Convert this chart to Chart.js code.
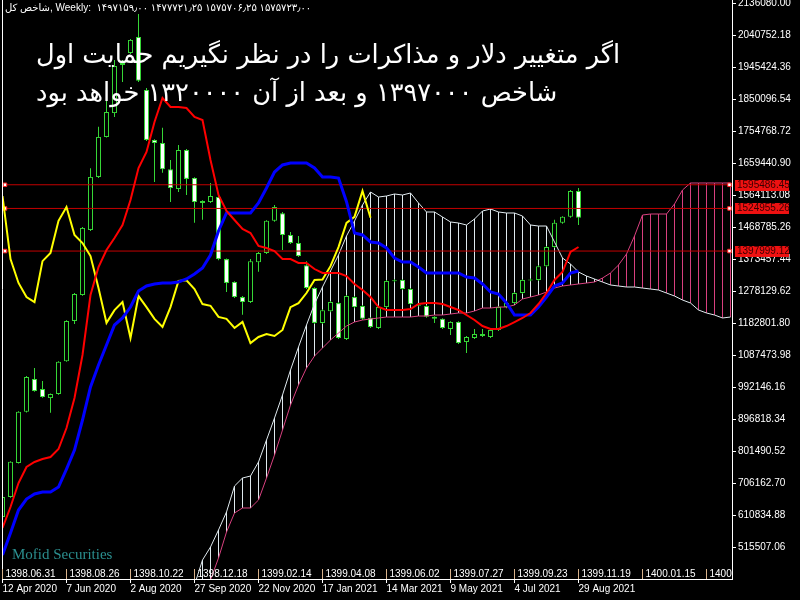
<!DOCTYPE html>
<html>
<head>
<meta charset="utf-8">
<script src="https://cdn.jsdelivr.net/npm/chart.js@4.4.0/dist/chart.umd.min.js"></script>
<style>
  html, body { margin: 0; padding: 0; background: #000; }
  canvas { display: block; }
</style>
</head>
<body>
<canvas id="chart" width="800" height="600"></canvas>
<script>
// weekly candles, prices in thousands, week 0 = 12 Apr 2020
const K = 1000;
const openK = [606,665,767,919,1017,987,960,972,1070,1190,1267,1461,1619,1738,1809,1952,1988,2036,1878,1729,
  1720,1642,1583,1699,1616,1547,1544,1559,1374,1306,1261,1246,1365,1392,1488,1511,1446,1422,1356,1288,
  1184,1219,1243,1136,1261,1234,1199,1169,1231,1308,1312,1285,1238,1234,1202,1196,1166,1187,1127,1139,
  1151,1142,1163,1231,1243,1273,1310,1312,1353,1410,1482,1500,1577];
const highK = [668,772,921,1026,1050,1011,974,1070,1192,1273,1470,1645,1768,1845,1967,1967,2030,2104,1884,1731,
  1765,1669,1714,1702,1618,1549,1601,1565,1376,1308,1264,1374,1395,1490,1535,1514,1455,1443,1368,1290,
  1225,1249,1246,1267,1264,1237,1201,1234,1312,1314,1314,1288,1240,1237,1204,1198,1189,1189,1145,1166,
  1166,1166,1234,1246,1276,1314,1316,1356,1413,1491,1502,1580,1586];
const lowK = [600,663,765,917,979,961,916,970,1068,1181,1265,1458,1616,1736,1797,1902,1985,1902,1726,1604,
  1631,1544,1574,1565,1482,1491,1541,1371,1276,1258,1208,1243,1336,1389,1485,1401,1419,1380,1285,1181,
  1181,1216,1136,1133,1228,1193,1169,1166,1228,1305,1282,1237,1233,1199,1184,1166,1148,1121,1094,1136,
  1142,1139,1160,1228,1240,1270,1308,1309,1350,1407,1479,1497,1476];
const closeK = [665,770,919,1023,981,963,972,1068,1190,1270,1467,1619,1738,1812,1949,1958,2027,1905,1729,1720,
  1642,1586,1699,1613,1544,1541,1562,1374,1303,1261,1246,1368,1392,1488,1529,1446,1422,1383,1288,1184,
  1222,1246,1139,1264,1231,1196,1172,1231,1309,1311,1285,1240,1235,1202,1196,1169,1187,1124,1142,1151,
  1145,1163,1231,1243,1273,1312,1313,1353,1410,1482,1500,1577,1497];

// ichimoku lines (thousands)
const tenkanK = [573.0,635.5,707.0,754.7,769.6,778.5,784.5,808.3,870.9,960.3,
  1088.4,1267.1,1350.5,1401.2,1436.9,1475.6,1550.1,1645.4,1693.1,1782.5,
  1854.0,1827.1,1827.1,1824.2,1797.4,1788.4,1669.3,1565.0,1517.3,1490.5,
  1463.7,1451.8,1413.1,1407.1,1398.2,1374.3,1374.3,1362.4,1362.4,1344.5,
  1332.6,1332.6,1332.6,1323.7,1299.9,1282.0,1261.1,1231.3,1222.4,1222.4,
  1222.4,1225.4,1240.3,1243.2,1243.2,1240.3,1231.3,1222.4,1207.5,1192.6,
  1174.7,1165.8,1165.8,1174.7,1186.6,1198.6,1213.5,1240.3,1273.0,1311.8,
  1335.6,1395.2,1410.1];
const kijunK = [492.6,558.1,626.6,659.4,674.3,680.2,680.2,695.1,748.7,805.3,
  894.7,993.0,1058.6,1118.1,1177.7,1198.6,1231.3,1279.0,1293.9,1299.9,
  1302.8,1302.8,1305.8,1314.8,1329.7,1347.5,1386.3,1457.8,1511.4,1511.4,
  1511.4,1511.4,1541.2,1585.8,1633.5,1654.4,1660.3,1660.3,1660.3,1645.4,
  1618.6,1618.6,1615.6,1545.0,1451.8,1445.9,1425.0,1422.0,1407.1,1377.3,
  1365.4,1365.4,1350.5,1332.6,1332.6,1332.6,1332.6,1332.6,1320.7,1317.7,
  1299.9,1276.0,1270.1,1243.2,1207.5,1207.5,1207.5,1231.3,1261.1,1293.9,
  1302.8,1332.6,1338.6];
const spanStart = 23;
const spanAK = [358.5,403.2,477.7,516.4,567.0,620.7,698.1,721.9,727.9,769.6,
  835.1,900.7,969.2,1043.7,1112.2,1177.7,1240.3,1290.9,1338.6,1386.3,
  1442.9,1487.6,1535.2,1573.9,1559.0,1562.0,1568.0,1565.0,1571.0,1541.2,
  1514.4,1514.4,1499.5,1484.6,1481.6,1475.6,1493.5,1517.3,1523.3,1514.4,
  1511.4,1511.4,1502.4,1475.6,1472.6,1472.6,1425.0,1377.3,1359.4,1335.6,
  1323.7,1314.8,1305.8,1296.9,1293.9,1290.9,1290.9,1287.9,1284.9,1282.0,
  1273.0,1264.1,1252.2,1243.2,1222.4,1213.5,1207.5,1198.6,1201.5];
const spanBK = [239.3,298.9,358.5,418.1,483.6,561.1,617.7,632.6,632.6,656.4,
  721.9,790.5,864.9,939.4,999.0,1049.6,1085.4,1109.2,1133.0,1153.9,
  1174.7,1186.6,1192.6,1195.6,1198.6,1201.5,1201.5,1201.5,1201.5,1204.5,
  1204.5,1207.5,1207.5,1210.5,1213.5,1213.5,1219.4,1228.3,1228.3,1231.3,
  1231.3,1237.3,1255.2,1261.1,1267.1,1276.0,1287.9,1293.9,1296.9,1299.9,
  1302.8,1305.8,1317.7,1332.6,1356.4,1389.2,1442.9,1505.4,1508.4,1508.4,
  1508.4,1538.2,1579.9,1600.8,1600.8,1600.8,1600.8,1600.8,1600.8];
const chikouShift = 26;

const levels = [1595486.45, 1524955.26, 1397999.12];
const yTicks = [515507.06, 610834.88, 706162.70, 801490.52, 896818.34, 992146.16, 1087473.98,
  1182801.80, 1278129.62, 1373457.44, 1468785.26, 1564113.08, 1659440.90, 1754768.72,
  1850096.54, 1945424.36, 2040752.18, 2136080.00];
const gregTicks = [0, 8, 16, 24, 32, 40, 48, 56, 64, 72];
const gregLabels = ['12 Apr 2020', '7 Jun 2020', '2 Aug 2020', '27 Sep 2020', '22 Nov 2020',
  '17 Jan 2021', '14 Mar 2021', '9 May 2021', '4 Jul 2021', '29 Aug 2021'];
const jalaliTicks = [0, 8, 16, 24, 32, 40, 48, 56, 64, 72, 80, 88];
const jalaliLabels = ['1398.06.31', '1398.08.26', '1398.10.22', '1398.12.18', '1399.02.14', '1399.04.08',
  '1399.06.02', '1399.07.27', '1399.09.23', '1399.11.19', '1400.01.15', '1400.03.09'];

const headerText = 'شاخص کل, Weekly:  ۱۴۹۷۱۵۹٫۰۰ ۱۴۷۷۷۲۱٫۲۵ ۱۵۷۵۷۰۶٫۲۵ ۱۵۷۵۷۲۳٫۰۰';
const titleLines = ['اگر متغییر دلار و مذاکرات را در نظر نگیریم حمایت اول',
  'شاخص ۱۳۹۷۰۰۰ و بعد از آن ۱۳۲۰۰۰۰ خواهد بود'];
const watermark = 'Mofid Securities';

const candleGreen = '#36d636';

// build datasets
const bodyUp = [], bodyDn = [], wicks = [];
openK.forEach((o, i) => {
  const c = closeK[i];
  (c >= o ? bodyUp : bodyDn).push({x: i, y: [o * K, c * K]});
  wicks.push({x: i, y: [lowK[i] * K, highK[i] * K]});
});
const hatchA = [], hatchB = [];
spanAK.forEach((a, j) => {
  const b = spanBK[j];
  (a >= b ? hatchA : hatchB).push({x: spanStart + j, y: [b * K, a * K]});
});
const toPts = (arr, start) => arr.map((v, j) => ({x: start + j, y: v * K}));

const lineDs = (label, data, color, width, order) => ({
  type: 'line', label, data, borderColor: color, borderWidth: width,
  pointRadius: 0, tension: 0, fill: false, order
});
const barDs = (label, data, bg, border, thick, order) => ({
  type: 'bar', label, data, backgroundColor: bg, borderColor: border,
  borderWidth: border ? 1 : 0, borderSkipped: false, barThickness: thick,
  grouped: false, inflateAmount: 0, order
});

const levelSets = levels.map(v => ({
  type: 'line', data: [{x: 0.31, y: v}, {x: 90.875, y: v}],
  borderColor: '#c40000', borderWidth: 1, pointStyle: 'rect', pointRadius: 2.5,
  pointBackgroundColor: '#ffffff', pointBorderColor: '#ff2020', pointBorderWidth: 1,
  clip: false, order: 4
}));

// keep the plot flush with the canvas edges (no label overhang padding)
const noPad = s => { s.paddingTop = 0; s.paddingBottom = 0; s.paddingLeft = 0; s.paddingRight = 0; };

const overlay = {
  id: 'overlay',
  afterDraw(chart) {
    const {ctx, chartArea: a, scales: {x, y}} = chart;
    ctx.save();
    // left frame line
    ctx.strokeStyle = '#ffffff';
    ctx.lineWidth = 1;
    ctx.beginPath();
    ctx.moveTo(a.left + 0.5, a.top);
    ctx.lineTo(a.left + 0.5, a.bottom);
    ctx.stroke();

    // jalali dates row inside the plot
    ctx.save();
    ctx.beginPath();
    ctx.rect(a.left, a.top, a.right - a.left, a.bottom - a.top);
    ctx.clip();
    ctx.font = '10px "Liberation Sans"';
    ctx.textAlign = 'left';
    ctx.textBaseline = 'alphabetic';
    jalaliTicks.forEach((t, k) => {
      const px = Math.floor(x.getPixelForValue(t)) + 0.5;
      ctx.strokeStyle = '#d9b38c';
      ctx.beginPath();
      ctx.moveTo(px, a.bottom - 10);
      ctx.lineTo(px, a.bottom);
      ctx.stroke();
      ctx.fillStyle = '#ffffff';
      ctx.fillText(jalaliLabels[k], px + 3, a.bottom - 2);
    });
    ctx.restore();

    // watermark
    ctx.fillStyle = '#2b8f8f';
    ctx.font = '15px "Liberation Serif"';
    ctx.textAlign = 'left';
    ctx.fillText(watermark, 12, 559);

    // header
    ctx.fillStyle = '#ffffff';
    ctx.font = '10px "Liberation Sans", "DejaVu Sans"';
    ctx.fillText(headerText, 5, 11);

    // title
    ctx.direction = 'rtl';
    ctx.textAlign = 'left';
    ctx.font = '26px "DejaVu Sans"';
    const fs = 26 * 584 / ctx.measureText(titleLines[0]).width;
    ctx.font = fs.toFixed(1) + 'px "DejaVu Sans"';
    ctx.fillText(titleLines[0], 36, 63);
    ctx.fillText(titleLines[1], 36, 101);
    ctx.direction = 'ltr';

    // level price tags on the axis
    ctx.font = '10px "Liberation Sans"';
    ctx.textBaseline = 'middle';
    levels.forEach(v => {
      const py = Math.round(y.getPixelForValue(v));
      ctx.fillStyle = '#ee1111';
      ctx.fillRect(a.right + 3, py - 5, 54, 11);
      ctx.fillStyle = '#3a0000';
      ctx.fillText(v.toFixed(2), a.right + 5, py + 0.5);
    });
    ctx.restore();
  }
};

Chart.defaults.color = '#ffffff';
Chart.defaults.font.family = '"Liberation Sans", sans-serif';
Chart.defaults.font.size = 10;

new Chart(document.getElementById('chart'), {
  type: 'bar',
  data: {
    datasets: [
      lineDs('Tenkan', toPts(tenkanK, 0), '#ff0000', 2, 1),
      lineDs('Kijun', toPts(kijunK, 0), '#0000ff', 3, 2),
      lineDs('Chikou', toPts(closeK.slice(chikouShift), 0), '#ffff00', 2, 3),
      ...levelSets,
      lineDs('Span A', toPts(spanAK, spanStart), '#dfe9ee', 1, 5),
      lineDs('Span B', toPts(spanBK, spanStart), '#d8407f', 1, 6),
      barDs('Up', bodyUp, '#000000', candleGreen, 5, 7),
      barDs('Down', bodyDn, '#ffffff', candleGreen, 5, 8),
      barDs('Wick', wicks, candleGreen, null, 1, 9),
      barDs('Kumo up', hatchA, '#dfe9ee', null, 1, 10),
      barDs('Kumo down', hatchB, '#d8407f', null, 1, 11)
    ]
  },
  options: {
    responsive: false,
    animation: false,
    events: [],
    layout: { autoPadding: false, padding: { left: 2, top: 0, right: 0, bottom: 0 } },
    plugins: { legend: { display: false }, tooltip: { enabled: false } },
    scales: {
      x: {
        type: 'linear',
        min: -0.0625,
        max: 91.1875,
        offset: false,
        afterFit: s => { s.height = 21; noPad(s); },
        afterBuildTicks: s => { s.ticks = gregTicks.map(v => ({value: v})); },
        grid: { offset: false, drawOnChartArea: false, color: '#ffffff', tickLength: 4 },
        border: { color: '#ffffff' },
        ticks: {
          align: 'start', padding: 0, autoSkip: false, maxRotation: 0,
          color: '#ffffff', font: { size: 10 },
          callback: v => gregLabels[gregTicks.indexOf(v)]
        }
      },
      y: {
        position: 'right',
        min: 421073,
        max: 2145911,
        afterFit: s => { s.width = 68; noPad(s); },
        afterBuildTicks: s => { s.ticks = yTicks.map(v => ({value: v})); },
        grid: { drawOnChartArea: false, color: '#ffffff', tickLength: 4 },
        border: { color: '#ffffff' },
        ticks: {
          padding: 2, autoSkip: false, color: '#ffffff', font: { size: 10 },
          callback: v => v.toFixed(2)
        }
      }
    }
  },
  plugins: [overlay]
});
</script>
</body>
</html>
